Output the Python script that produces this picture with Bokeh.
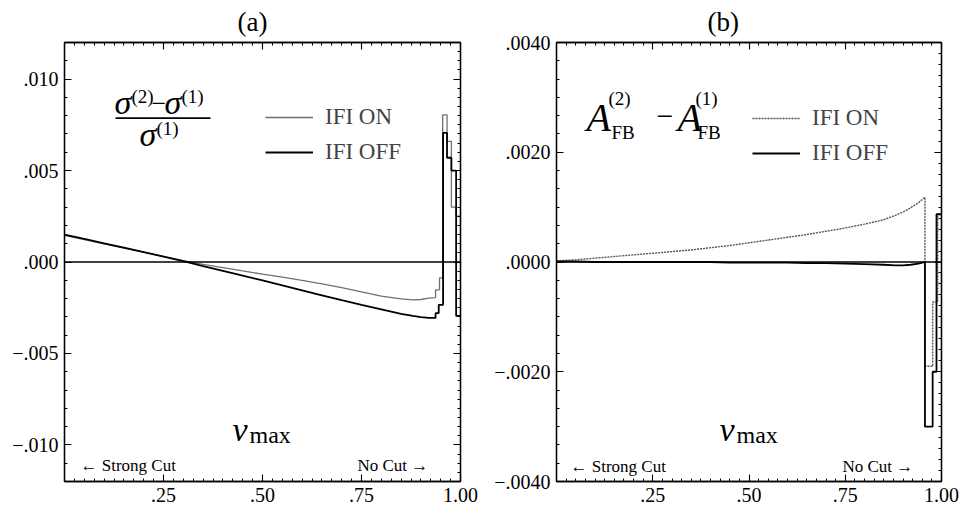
import numpy as np
from bokeh.plotting import figure
from bokeh.models import (Range1d, LinearAxis, FixedTicker, Span, Label, Legend,
                          LegendItem, BoxAnnotation)
from bokeh.layouts import row
from bokeh.embed import file_html
from bokeh.resources import INLINE

SERIF = "'Liberation Serif', 'Times New Roman', serif"

# ---------------- data: panel (a) ----------------
a_x = [0.00, 0.05, 0.10, 0.15, 0.20, 0.25, 0.30, 0.35, 0.40, 0.45, 0.50, 0.55,
       0.60, 0.65, 0.70, 0.75, 0.80, 0.85, 0.88, 0.90, 0.92, 0.937]
a_on = [0.00145, 0.00122, 0.00099, 0.00076, 0.00054, 0.00031, 0.00008, -0.00013,
        -0.00031, -0.00049, -0.00066, -0.00083, -0.00101, -0.00120, -0.00140,
        -0.00163, -0.00186, -0.00202, -0.00207, -0.00205, -0.00198, -0.00195]
a_off = [0.00150, 0.00126, 0.00102, 0.00078, 0.00054, 0.00030, 0.00005, -0.00022,
         -0.00048, -0.00074, -0.00101, -0.00128, -0.00155, -0.00182, -0.00209,
         -0.00235, -0.00259, -0.00283, -0.00295, -0.00301, -0.00305, -0.00306]
a_on_edges = [0.937, 0.947, 0.955, 0.966, 0.977, 0.989, 1.000]
a_on_bins = [-0.00152, -0.00087, 0.00804, 0.00660, 0.00300, 0.00250]
a_off_edges = [0.937, 0.945, 0.956, 0.966, 0.977, 0.989, 1.000]
a_off_bins = [-0.00280, -0.00234, 0.00706, 0.00570, 0.00500, -0.00295]

# ---------------- data: panel (b) ----------------
b_x = [0.00, 0.05, 0.10, 0.15, 0.20, 0.25, 0.30, 0.35, 0.40, 0.45, 0.50, 0.55,
       0.60, 0.65, 0.70, 0.75, 0.80, 0.85, 0.88, 0.90, 0.92, 0.94, 0.957]
b_on = [0.00002, 0.00004, 0.00007, 0.00010, 0.00013, 0.00016, 0.00019, 0.00022,
        0.00026, 0.00030, 0.00035, 0.00040, 0.00045, 0.00050, 0.00056, 0.00062,
        0.00069, 0.00077, 0.00085, 0.00091, 0.00099, 0.00108, 0.00118]
b_off = [0.00001, 0.00001, 0.00000, 0.00000, 0.00000, 0.00000, 0.00000, 0.00000,
         0.00000, -0.00001, -0.00001, -0.00001, -0.00001, -0.00002, -0.00002,
         -0.00003, -0.00004, -0.00005, -0.00006, -0.00006, -0.00005, -0.00003, 0.00000]
b_on_edges = [0.957, 0.977, 0.990, 1.000]
b_on_bins = [-0.00190, -0.00073, 0.00087]
b_off_edges = [0.957, 0.977, 0.987, 1.000]
b_off_bins = [-0.00300, -0.00200, 0.00087]

# ---------------- ticks / texts ----------------
x_ticks = [0.25, 0.50, 0.75, 1.00]
x_tick_labels = [".25", ".50", ".75", "1.00"]
a_y_ticks = [-0.010, -0.005, 0.0, 0.005, 0.010]
a_y_tick_labels = ["\u2212.010", "\u2212.005", ".000", ".005", ".010"]
b_y_ticks = [-0.004, -0.002, 0.0, 0.002, 0.004]
b_y_tick_labels = ["\u2212.0040", "\u2212.0020", ".0000", ".0020", ".0040"]
legend_labels = ["IFI ON", "IFI OFF"]
panel_titles = ["(a)", "(b)"]


def curve(xs, ys, edges, vals):
    X, Y = list(xs), list(ys)
    for i, v in enumerate(vals):
        X += [edges[i], edges[i + 1]]
        Y += [v, v]
    return X, Y


def style_axis(ax, major, minor, labels=None):
    ax.ticker = FixedTicker(ticks=major, minor_ticks=minor)
    ax.major_tick_in = 7
    ax.major_tick_out = 0
    ax.minor_tick_in = 3
    ax.minor_tick_out = 0
    ax.axis_line_color = "black"
    ax.axis_line_width = 1.3
    ax.major_tick_line_color = "black"
    ax.minor_tick_line_color = "black"
    ax.major_tick_line_width = 1.1
    ax.minor_tick_line_width = 1.0
    ax.major_label_text_font = SERIF
    ax.major_label_text_font_size = "20px"
    ax.major_label_text_color = "black"
    if labels is not None:
        ax.major_label_overrides = {t: l for t, l in zip(major, labels)}
        ax.major_label_standoff = 6
    else:
        ax.major_label_overrides = {t: "" for t in major}
        ax.major_label_standoff = 0


def make_fig(width, G, yr, title, offset):
    p = figure(width=width, height=514, x_range=Range1d(0, 1), y_range=Range1d(*yr),
               output_backend="svg", toolbar_location=None,
               min_border_left=G["ml"], min_border_right=G["mr"],
               min_border_top=G["mt"], min_border_bottom=G["mb"])
    p.xgrid.visible = False
    p.ygrid.visible = False
    p.outline_line_color = "black"
    p.outline_line_width = 1.3
    p.background_fill_color = "white"
    p.border_fill_color = "white"
    p.title.text = title
    p.title.text_font = SERIF
    p.title.text_font_size = "27px"
    p.title.text_font_style = "normal"
    p.title.text_color = "black"
    p.title.align = "left"
    p.title.offset = offset
    p.title.vertical_align = "top"
    p.title.standoff = 8
    return p


def make_lab(p, G):
    sc = (G["y1"] - G["y0"]) / (G["b"] - G["t"])

    def lab(px, py, text, size, style="normal", align="left"):
        # px, py: left x and text baseline in page pixels
        x = (px - G["l"]) / (G["r"] - G["l"])
        yc = py - 0.34 * size
        y = G["y1"] - (yc - G["t"]) * sc
        p.add_layout(Label(x=x, y=y, text=text, text_font=SERIF,
                           text_font_size=f"{size}px", text_font_style=style,
                           text_align=align, text_baseline="middle",
                           text_color="black"))
    return lab


def bar(p, G, px0, px1, py, th=1.6):
    x0 = (px0 - G["l"]) / (G["r"] - G["l"])
    x1 = (px1 - G["l"]) / (G["r"] - G["l"])
    sc = (G["y1"] - G["y0"]) / (G["b"] - G["t"])
    yc = G["y1"] - (py - G["t"]) * sc
    p.add_layout(BoxAnnotation(left=x0, right=x1, bottom=yc - th / 2 * sc,
                               top=yc + th / 2 * sc, fill_color="black", fill_alpha=1,
                               line_alpha=0))


def add_frame_axes(p, major_x, minor_x, major_y, minor_y_r):
    top = LinearAxis()
    style_axis(top, major_x, minor_x)
    p.add_layout(top, "above")
    right = LinearAxis()
    style_axis(right, major_y, minor_y_r)
    p.add_layout(right, "right")


def legend(p, r_on, r_off, loc):
    p.add_layout(Legend(items=[LegendItem(label=legend_labels[0], renderers=[r_on]),
                               LegendItem(label=legend_labels[1], renderers=[r_off])],
                        location=loc, orientation="vertical", glyph_width=48,
                        glyph_height=22, label_height=22, label_standoff=12, spacing=9,
                        padding=0, margin=0, label_text_font=SERIF,
                        label_text_font_size="23px", border_line_alpha=0,
                        background_fill_alpha=0))


# ====================== panel (a) ======================
GA = dict(l=64, r=460, t=41, b=482, y0=-0.012, y1=0.012, ml=64, mr=20, mt=41, mb=32)
pa = make_fig(480, GA, (-0.012, 0.012), panel_titles[0], 173)
x_minor = list(np.round(np.arange(0, 1.0001, 0.025), 4))
a_yminor_l = list(np.round(np.arange(-0.012, 0.01201, 0.001), 5))
a_yminor_r = list(np.round(np.arange(-0.012, 0.01201, 0.0005), 5))
style_axis(pa.xaxis[0], x_ticks, x_minor, x_tick_labels)
style_axis(pa.yaxis[0], a_y_ticks, a_yminor_l, a_y_tick_labels)
add_frame_axes(pa, x_ticks, x_minor, a_y_ticks, a_yminor_r)

pa.add_layout(Span(location=0, dimension="width", line_color="black", line_width=1.4))

xo, yo = curve(a_x, a_on, a_on_edges, a_on_bins)
xf, yf = curve(a_x, a_off, a_off_edges, a_off_bins)
ra_on = pa.line(xo, yo, line_color="#707070", line_width=1.3)
ra_off = pa.line(xf, yf, line_color="black", line_width=1.8)
legend(pa, ra_on, ra_off, (201, 316))

la = make_lab(pa, GA)
# fraction sigma(2)-sigma(1) / sigma(1)
la(114, 113, "\u03c3", 34, "italic")
la(131, 102, "(2)", 19)
la(151, 111, "\u2212", 26)
la(164, 113, "\u03c3", 34, "italic")
la(181, 102, "(1)", 19)
bar(pa, GA, 115, 210, 117)
la(139, 145, "\u03c3", 34, "italic")
la(156, 134, "(1)", 19)
# v_max
la(232, 441, "v", 34, "italic")
la(249, 443, "max", 24)
la(80, 472, "\u2190 Strong Cut", 17)
la(357, 472, "No Cut \u2192", 17)

# ====================== panel (b) ======================
GB = dict(l=76, r=461, t=42, b=481, y0=-0.004, y1=0.004, ml=76, mr=20, mt=42, mb=33)
pb = make_fig(481, GB, (-0.004, 0.004), panel_titles[1], 151)
b_yminor_l = list(np.round(np.arange(-0.004, 0.00401, 0.004 / 12), 6))
b_yminor_r = list(np.round(np.arange(-0.004, 0.00401, 0.0002), 6))
style_axis(pb.xaxis[0], x_ticks, x_minor, x_tick_labels)
style_axis(pb.yaxis[0], b_y_ticks, b_yminor_l, b_y_tick_labels)
add_frame_axes(pb, x_ticks, x_minor, b_y_ticks, b_yminor_r)

pb.add_layout(Span(location=0, dimension="width", line_color="black", line_width=1.4))

xo, yo = curve(b_x, b_on, b_on_edges, b_on_bins)
xf, yf = curve(b_x, b_off, b_off_edges, b_off_bins)
rb_on = pb.line(xo, yo, line_color="#555555", line_width=1.4, line_dash="2 1")
rb_off = pb.line(xf, yf, line_color="black", line_width=1.8)
legend(pb, rb_on, rb_off, (196, 315))

lb = make_lab(pb, GB)
# A_FB^(2) - A_FB^(1)
lb(106, 131, "A", 40, "italic")
lb(128, 104, "(2)", 19)
lb(131, 138, "FB", 19)
lb(176, 126, "\u2212", 30)
lb(197, 131, "A", 40, "italic")
lb(215, 104, "(1)", 19)
lb(217, 138, "FB", 19)
# v_max
lb(239, 441, "v", 34, "italic")
lb(256, 443, "max", 24)
lb(90, 472, "\u2190 Strong Cut", 17)
lb(362, 472, "No Cut \u2192", 17)

layout = row(pa, pb)
open("out.html", "w").write(file_html(layout, INLINE))
